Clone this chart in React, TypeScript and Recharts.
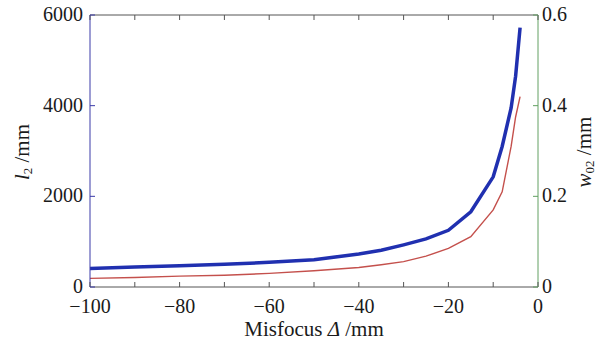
import { LineChart, Line, XAxis, YAxis, Label } from "recharts";

// misfocus Δ (mm) and the two curves
const misfocus = [-100, -90, -80, -70, -60, -50, -40, -35, -30, -25, -20, -15, -10, -8, -6, -5, -4];
const l2 = [410, 440, 470, 500, 545, 600, 730, 810, 930, 1060, 1250, 1660, 2430, 3100, 3950, 4650, 5720];
const w02 = [0.019, 0.021, 0.024, 0.026, 0.03, 0.036, 0.043, 0.049, 0.056, 0.068, 0.085, 0.111, 0.17, 0.21, 0.31, 0.375, 0.42];

const xTicks = [-100, -90, -80, -70, -60, -50, -40, -30, -20, -10, 0];
const leftTicks = [0, 2000, 4000, 6000];
const rightTicks = [0, 0.2, 0.4, 0.6];

const data = misfocus.map((x, i) => ({ x, l2: l2[i], w02: w02[i] }));

const FONT = "Times New Roman";
const TEXT = "#1a1a1a";
const GRAY = "#555";
const BLUE_AXIS = "#3a3aa8";
const GREEN_AXIS = "#62a062";

const fmt = (v: number) => String(v).replace("-", "\u2212");

// text props shared by every label
const txt = { fontFamily: FONT, fill: TEXT, style: { fontFamily: FONT } };

const BottomTick = (p: any) => {
  const v = p.payload.value;
  return (
    <g>
      <line x1={p.x} x2={p.x} y1={p.y} y2={p.y - 5} stroke={GRAY} />
      {v % 20 === 0 && (
        <text x={p.x} y={p.y + 26} textAnchor="middle" fontSize={20} {...txt}>
          {fmt(v)}
        </text>
      )}
    </g>
  );
};

const TopTick = (p: any) => <line x1={p.x} x2={p.x} y1={p.y} y2={p.y + 5} stroke={GRAY} />;

const LeftTick = (p: any) => (
  <g>
    <line x1={p.x} x2={p.x + 5} y1={p.y} y2={p.y} stroke={BLUE_AXIS} />
    <text x={p.x - 7} y={p.y + 6} textAnchor="end" fontSize={20} {...txt}>
      {p.payload.value}
    </text>
  </g>
);

const RightTick = (p: any) => (
  <g>
    <line x1={p.x} x2={p.x - 5} y1={p.y} y2={p.y} stroke={GREEN_AXIS} />
    <text x={p.x + 4} y={p.y + 6} textAnchor="start" fontSize={20} {...txt}>
      {p.payload.value}
    </text>
  </g>
);

const LeftTitle = () => (
  <text transform="rotate(-90, 22, 152)" x={22} y={152} textAnchor="middle" fontSize={21} dominantBaseline="central" {...txt}>
    <tspan fontStyle="italic">l</tspan>
    <tspan fontSize={13} dy={5}>2</tspan>
    <tspan dy={-5}> /mm</tspan>
  </text>
);

const RightTitle = () => (
  <text transform="rotate(-90, 584, 152)" x={584} y={152} textAnchor="middle" fontSize={21} dominantBaseline="central" {...txt}>
    <tspan fontStyle="italic">w</tspan>
    <tspan fontSize={13} dy={5}>02</tspan>
    <tspan dy={-5}> /mm</tspan>
  </text>
);

const BottomTitle = () => (
  <text x={314} y={336} textAnchor="middle" fontSize={21} {...txt}>
    Misfocus <tspan fontStyle="italic">Δ</tspan> /mm
  </text>
);

export default function App() {
  return (
    <div style={{ position: "absolute", left: 0, top: 0, width: 597, height: 344, background: "#fff", fontFamily: FONT }}>
      <LineChart width={597} height={344} data={data} margin={{ top: 0, right: 0, bottom: 0, left: 0 }}>
        <XAxis
          xAxisId="top"
          orientation="top"
          dataKey="x"
          type="number"
          domain={[-100, 0]}
          ticks={xTicks}
          height={15}
          tickSize={0}
          tickMargin={0}
          tickLine={false}
          stroke={GRAY}
          tick={TopTick}
          interval={0}
        />
        <XAxis
          xAxisId="bottom"
          orientation="bottom"
          dataKey="x"
          type="number"
          domain={[-100, 0]}
          ticks={xTicks}
          height={57}
          tickSize={0}
          tickMargin={0}
          tickLine={false}
          stroke={GRAY}
          tick={BottomTick}
          interval={0}
        >
          <Label content={BottomTitle} />
        </XAxis>
        <YAxis
          yAxisId="left"
          orientation="left"
          type="number"
          domain={[0, 6000]}
          ticks={leftTicks}
          width={90}
          tickSize={0}
          tickMargin={0}
          tickLine={false}
          stroke={BLUE_AXIS}
          tick={LeftTick}
          interval={0}
        >
          <Label content={LeftTitle} />
        </YAxis>
        <YAxis
          yAxisId="right"
          orientation="right"
          type="number"
          domain={[0, 0.6]}
          ticks={rightTicks}
          width={59}
          tickSize={0}
          tickMargin={0}
          tickLine={false}
          stroke={GREEN_AXIS}
          tick={RightTick}
          interval={0}
        >
          <Label content={RightTitle} />
        </YAxis>
        <Line
          xAxisId="bottom"
          yAxisId="right"
          dataKey="w02"
          type="linear"
          stroke="#c4504c"
          strokeWidth={1.4}
          dot={false}
          isAnimationActive={false}
        />
        <Line
          xAxisId="bottom"
          yAxisId="left"
          dataKey="l2"
          type="linear"
          stroke="#2030b0"
          strokeWidth={3.5}
          dot={false}
          isAnimationActive={false}
        />
      </LineChart>
    </div>
  );
}
